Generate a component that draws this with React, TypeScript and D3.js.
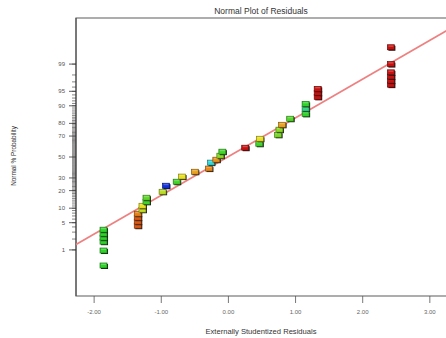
import * as d3 from "d3";

// ── Data ──────────────────────────────────────────────────────
// externally studentized residuals (x) and normal % probability (y)
const RESID = [
  -1.86, -1.86, -1.86, -1.86, -1.86, -1.86,
  -1.35, -1.35, -1.35, -1.35, -1.28, -1.28, -1.22, -1.22,
  -0.98, -0.93, -0.77, -0.69, -0.5, -0.29, -0.26, -0.18, -0.12, -0.09,
  0.25, 0.46, 0.47, 0.74, 0.76, 0.8, 0.92, 1.15, 1.15, 1.15,
  1.33, 1.33, 1.33, 2.42, 2.42, 2.42, 2.42, 2.42, 2.42,
];
const PROB = [
  0.33, 0.96, 1.7, 2.17, 2.74, 3.44,
  4.27, 5.26, 6.43, 7.78, 9.34, 11.1, 13.1, 15.4,
  19.2, 23.6, 26.8, 31.2, 35.6, 38.6, 44.4, 47.3, 51.3, 55.3,
  59.2, 63.0, 67.6, 71.1, 75.3, 79.0, 83.1, 86.0, 88.7, 90.8,
  93.4, 94.6, 95.6, 96.5, 97.2, 97.8, 98.3, 99.0, 99.7,
];
// response level used for the point colour (0 = low / blue, 1 = high / red)
const LEVEL = [
  0.4, 0.4, 0.4, 0.4, 0.4, 0.4,
  0.88, 0.88, 0.88, 0.82, 0.56, 0.6, 0.42, 0.45,
  0.55, 0, 0.42, 0.6, 0.75, 0.8, 0.2, 0.78, 0.5, 0.42,
  1, 0.42, 0.6, 0.48, 0.5, 0.75, 0.44, 0.4, 0.3, 0.4,
  1, 1, 1, 1, 1, 1, 1, 1, 1,
];

const X_TICKS = [-2, -1, 0, 1, 2, 3];
const Y_TICKS = [1, 5, 10, 20, 30, 50, 70, 80, 90, 95, 99];
const Y_MINOR = d3.range(1, 100);

// fitted reference line: residual -> normal score
const FIT_RESID = [-2.3, 3.4];
const FIT_Z = [-2.22, 3.31];

// ── inverse normal (Acklam) ───────────────────────────────────
function probit(p: number) {
  const a = [-39.69683028665376, 220.9460984245205, -275.9285104469687, 138.357751867269, -30.66479806614716, 2.506628277459239];
  const b = [-54.47609879822406, 161.5858368580409, -155.6989798598866, 66.80131188771972, -13.28068155288572];
  const c = [-0.007784894002430293, -0.3223964580411365, -2.400758277161838, -2.549732539343734, 4.374664141464968, 2.938163982698783];
  const d = [0.007784695709041462, 0.3224671290700398, 2.445134137142996, 3.754408661907416];
  const pl = 0.02425;
  if (p < pl) {
    const q = Math.sqrt(-2 * Math.log(p));
    return (((((c[0] * q + c[1]) * q + c[2]) * q + c[3]) * q + c[4]) * q + c[5]) /
      ((((d[0] * q + d[1]) * q + d[2]) * q + d[3]) * q + 1);
  }
  if (p > 1 - pl) {
    const q = Math.sqrt(-2 * Math.log(1 - p));
    return -(((((c[0] * q + c[1]) * q + c[2]) * q + c[3]) * q + c[4]) * q + c[5]) /
      ((((d[0] * q + d[1]) * q + d[2]) * q + d[3]) * q + 1);
  }
  const q = p - 0.5;
  const r = q * q;
  return (((((a[0] * r + a[1]) * r + a[2]) * r + a[3]) * r + a[4]) * r + a[5]) * q /
    (((((b[0] * r + b[1]) * r + b[2]) * r + b[3]) * r + b[4]) * r + 1);
}

// ── Layout ────────────────────────────────────────────────────
const W = 446;
const H = 338;
const L = 76;
const T = 18;
const R = 452; // frame runs off the right edge
const B = 296;

const x = d3.scaleLinear().domain([-2.27, 3.33]).range([L, R]);
const y = d3.scaleLinear().domain([-3.48, 3.48]).range([B, T]);
const color = d3
  .scaleLinear<string>()
  .domain([0, 0.2, 0.4, 0.6, 0.8, 1])
  .range(["#1030e0", "#30d8d8", "#2fd42a", "#e8e020", "#e98a1a", "#c8100f"]);

const FONT = "'Liberation Sans', Arial, sans-serif";
const PW = 7;
const PH = 5;

export default function App() {
  const fit = d3
    .line<number>()
    .x((d) => x(d))
    .y((_d, i) => y(FIT_Z[i]));

  const pts = RESID.map((r, i) => ({ r, p: PROB[i], lv: LEVEL[i] }));

  return (
    <svg
      width={W}
      height={H}
      style={{ position: "absolute", left: 0, top: 0, background: "#fff" }}
      fontFamily={FONT}
    >
      <defs>
        <clipPath id="plot">
          <rect x={L} y={T} width={R - L} height={B - T} />
        </clipPath>
      </defs>

      {/* title */}
      <text x={261} y={14} textAnchor="middle" fontSize={8.5} fill="#333">
        Normal Plot of Residuals
      </text>

      {/* frame */}
      <rect x={L} y={T} width={R - L} height={B - T} fill="none" stroke="#777" strokeWidth={1.2} />
      <line x1={L} x2={L} y1={T} y2={B} stroke="#444" strokeWidth={1} />

      {/* y axis ticks */}
      {Y_MINOR.map((p) => (
        <line key={"m" + p} x1={L - 4} x2={L} y1={y(probit(p / 100))} y2={y(probit(p / 100))} stroke="#333" strokeWidth={0.6} />
      ))}
      {Y_TICKS.map((p) => (
        <g key={"y" + p}>
          <line x1={L - 7} x2={L} y1={y(probit(p / 100))} y2={y(probit(p / 100))} stroke="#333" strokeWidth={0.8} />
          <text x={L - 11} y={y(probit(p / 100))} dy="0.35em" textAnchor="end" fontSize={6} fill="#555">
            {p}
          </text>
        </g>
      ))}

      {/* x axis ticks */}
      {X_TICKS.map((t) => (
        <g key={"x" + t}>
          <line x1={x(t)} x2={x(t)} y1={B} y2={B + 7} stroke="#555" strokeWidth={0.8} />
          <text x={x(t)} y={314} textAnchor="middle" fontSize={6} fill="#666">
            {t.toFixed(2)}
          </text>
        </g>
      ))}

      {/* axis titles */}
      <text x={261} y={334} textAnchor="middle" fontSize={7.6} fill="#333">
        Externally Studentized Residuals
      </text>
      <text
        transform={`translate(16,156) rotate(-90)`}
        textAnchor="middle"
        fontSize={6.4}
        fill="#333"
      >
        Normal % Probability
      </text>

      {/* fitted line */}
      <path
        d={fit(FIT_RESID) ?? ""}
        clipPath="url(#plot)"
        fill="none"
        stroke="#ee8080"
        strokeWidth={1.8}
      />

      {/* residual points */}
      {pts.map((d, i) => {
        const cx = x(d.r);
        const cy = y(probit(d.p / 100));
        const c = color(d.lv);
        return (
          <g key={"p" + i}>
            <rect x={cx - PW / 2 + 1} y={cy - PH / 2 + 1} width={PW} height={PH} fill="#151515" />
            <rect
              x={cx - PW / 2}
              y={cy - PH / 2}
              width={PW}
              height={PH}
              fill={c}
              stroke={d3.color(c)?.darker(1.6).toString()}
              strokeWidth={0.7}
            />
            <rect
              x={cx - PW / 2 + 1}
              y={cy - PH / 2 + 0.6}
              width={PW - 2}
              height={1.4}
              fill="#fff"
              opacity={0.25}
            />
          </g>
        );
      })}
    </svg>
  );
}
